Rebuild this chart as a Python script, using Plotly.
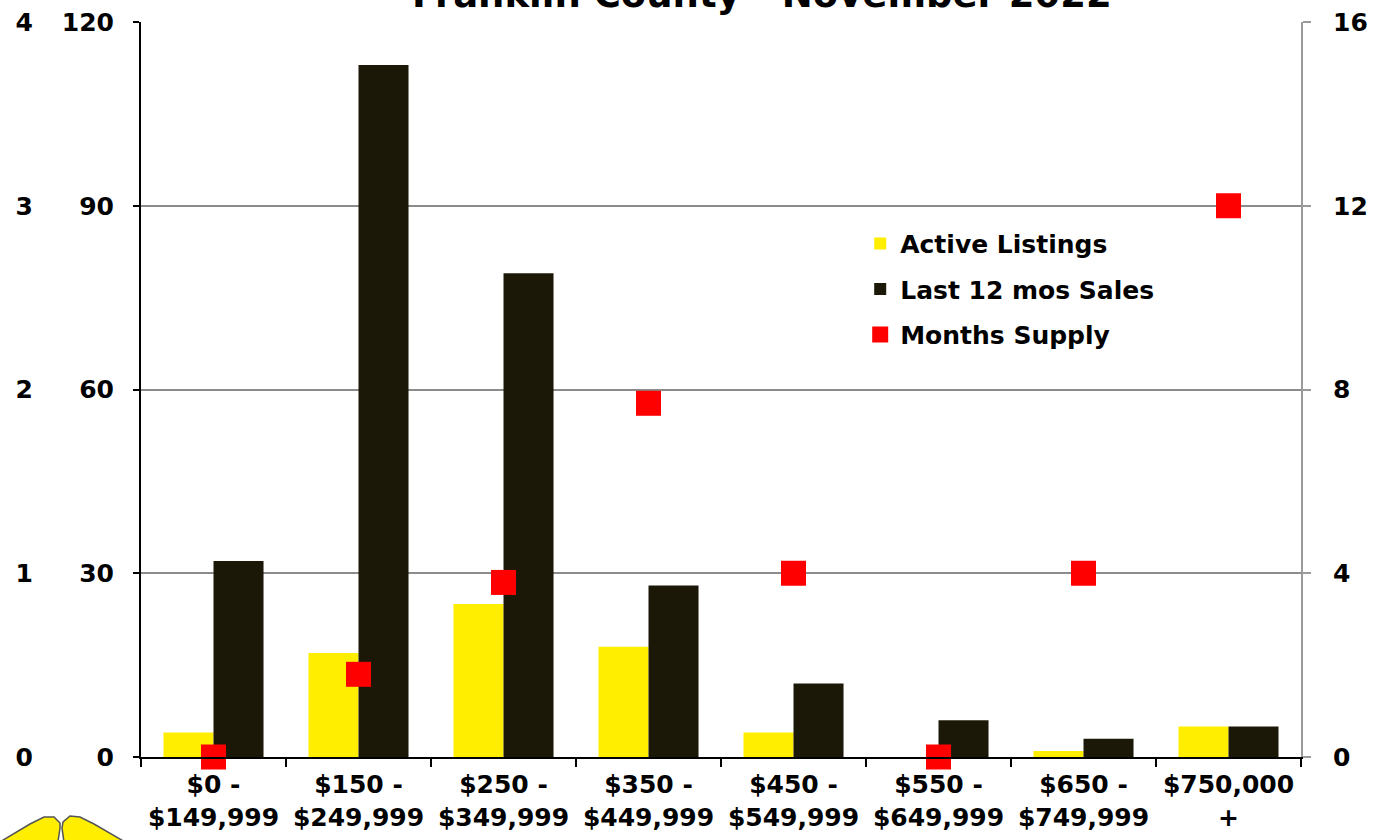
import plotly.graph_objects as go

categories = ["$0 -<br>$149,999", "$150 -<br>$249,999", "$250 -<br>$349,999", "$350 -<br>$449,999",
              "$450 -<br>$549,999", "$550 -<br>$649,999", "$650 -<br>$749,999", "$750,000<br>+"]
active_listings = [4, 17, 25, 18, 4, 0, 1, 5]
last_12_sales = [32, 113, 79, 28, 12, 6, 3, 5]
months_supply = [0, 1.8, 3.8, 7.7, 4, 0, 4, 12]

left_ticks = [0, 30, 60, 90, 120]
outer_ticks = [0, 1, 2, 3, 4]
right_ticks = [0, 4, 8, 12, 16]

FONT = "DejaVu Sans"
W, H = 1381, 840
# plot box in pixels: left 141, right 1301, top 22, bottom 757
ML, MT, MR, MB = 141, 22, W - 1301, H - 757
PW, PH = 1301 - 141, 757 - 22


def px(xp, yp):
    return (xp - ML) / PW, (H - MB - yp) / PH


def path_from(points):
    parts = []
    for i, (a, b) in enumerate(points):
        x, y = px(a, b)
        parts.append(("M" if i == 0 else "L") + f"{x:.4f},{y:.4f}")
    return " ".join(parts) + " Z"


fig = go.Figure()
fig.add_trace(go.Bar(x=categories, y=active_listings, name="Active Listings", legendgroup="a",
                     marker=dict(color="#FFEE00", line=dict(width=0))))
fig.add_trace(go.Bar(x=categories, y=last_12_sales, name="Last 12 mos Sales", legendgroup="b",
                     marker=dict(color="#1C1808", line=dict(width=0))))
fig.add_trace(go.Scatter(x=categories, y=months_supply, name="Months Supply", yaxis="y2",
                         legendgroup="c", mode="markers", cliponaxis=False,
                         marker=dict(symbol="square", size=25, color="#FF0000", line=dict(width=0))))
# invisible trace to activate the outer left scale
fig.add_trace(go.Scatter(x=categories[:1], y=[0], yaxis="y3", mode="markers",
                         marker=dict(opacity=0), showlegend=False, hoverinfo="skip"))

# decorative logo fragment at bottom-left
logo_left = [(0, 842), (30, 824), (44, 817), (54, 817), (60, 823), (60, 828), (58, 842)]
logo_right = [(64, 842), (62, 828), (63, 822), (70, 816), (80, 817), (94, 824), (125, 842)]
shapes = [dict(type="path", xref="paper", yref="paper", path=path_from(p),
               fillcolor="#FFEE00", line=dict(color="#555555", width=1.5), layer="above")
          for p in (logo_left, logo_right)]

tick_font = dict(family=FONT, size=25, weight="bold", color="black")

fig.update_layout(
    width=W, height=H,
    margin=dict(l=ML, r=MR, t=MT, b=MB, autoexpand=False),
    paper_bgcolor="white", plot_bgcolor="white",
    barmode="group", bargap=0.31, bargroupgap=0,
    font=dict(family=FONT, color="black"),
    showlegend=True,
    legend=dict(x=0.62, y=0.7295, xanchor="left", yanchor="top",
                font=dict(family=FONT, size=25, color="black", weight="bold"),
                bgcolor="rgba(0,0,0,0)", itemsizing="trace", tracegroupgap=10,
                traceorder="grouped"),
    xaxis=dict(type="category", showline=True, linecolor="black", linewidth=2,
               ticks="outside", tickson="boundaries", ticklen=8, tickcolor="black", tickwidth=2,
               tickfont=tick_font, showgrid=False, automargin=False, ticklabelstandoff=4,
               ticklabeloverflow="allow", range=[-0.5, 7.5]),
    yaxis=dict(range=[0, 120], tickvals=left_ticks, showline=True, linecolor="black", linewidth=2,
               ticks="outside", ticklen=6, tickcolor="black", tickwidth=2, automargin=False,
               showgrid=True, gridcolor="#8C8C8C", gridwidth=2, zeroline=False,
               tickfont=tick_font, ticklabelstandoff=14, ticklabeloverflow="allow"),
    yaxis2=dict(range=[0, 16], tickvals=right_ticks, overlaying="y", side="right",
                showline=True, linecolor="#9A9A9A", linewidth=2, ticks="outside", ticklen=8,
                tickcolor="#9A9A9A", tickwidth=2, showgrid=False, zeroline=False, automargin=False,
                tickfont=tick_font, ticklabelstandoff=17, ticklabeloverflow="allow"),
    yaxis3=dict(range=[0, 4], tickvals=outer_ticks, overlaying="y", side="left",
                showline=False, ticks="", showgrid=False, zeroline=False, automargin=False,
                tickfont=tick_font, ticklabelstandoff=107, ticklabeloverflow="allow"),
    shapes=shapes,
    annotations=[dict(text="Franklin County - November 2022", xref="paper", yref="paper",
                      x=0.535, y=1.0, xanchor="center", yanchor="bottom", showarrow=False,
                      yshift=4,
                      font=dict(family=FONT, size=37, weight="bold", color="black"))],
)
fig.write_html("out.html", config={"displayModeBar": False},
               post_script="document.body.style.margin='0';document.body.style.overflow='hidden';")
